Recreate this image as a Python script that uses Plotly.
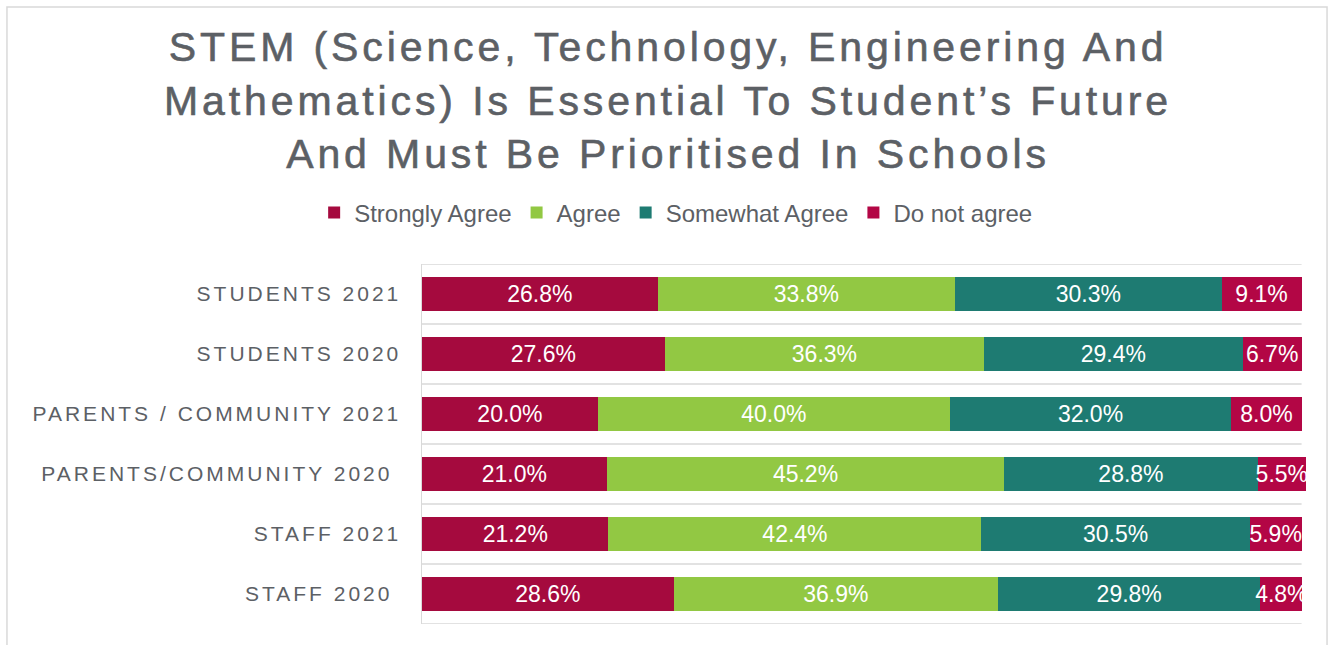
import plotly.graph_objects as go

# Survey groups, top to bottom
groups = [
    "STUDENTS 2021",
    "STUDENTS 2020",
    "PARENTS / COMMUNITY 2021",
    "PARENTS/COMMUNITY 2020\u00a0",
    "STAFF 2021",
    "STAFF 2020\u00a0",
]

# Share of responses (%) per answer, in the same order as groups
strongly_agree = [26.8, 27.6, 20.0, 21.0, 21.2, 28.6]
agree = [33.8, 36.3, 40.0, 45.2, 42.4, 36.9]
somewhat_agree = [30.3, 29.4, 32.0, 28.8, 30.5, 29.8]
do_not_agree = [9.1, 6.7, 8.0, 5.5, 5.9, 4.8]

series = [
    ("Strongly Agree", strongly_agree, "#A50A3E"),
    ("Agree", agree, "#92C843"),
    ("Somewhat Agree", somewhat_agree, "#1E7B72"),
    ("Do not agree", do_not_agree, "#B30645"),
]

FONT = "Liberation Sans, Arial, sans-serif"
GREY = "#5C6065"

fig = go.Figure()
for name, vals, color in series:
    fig.add_trace(go.Bar(
        y=groups, x=vals, name=name, orientation="h",
        marker=dict(color=color, line=dict(width=0)),
        text=vals, texttemplate="%{x:.1f}%",
        textposition="inside", insidetextanchor="middle",
        textangle=0, constraintext="none", cliponaxis=False,
        insidetextfont=dict(family=FONT, size=23, color="white"),
        hoverinfo="skip",
    ))

# Separators between the groups (category boundaries)
shapes = []
for i in range(len(groups) + 1):
    shapes.append(dict(type="line", xref="x", yref="y", x0=0, x1=100,
                       y0=i - 0.5, y1=i - 0.5,
                       line=dict(color="#D9D9D9", width=1.5), layer="below"))
# Outer chart frame
shapes.append(dict(type="rect", xref="paper", yref="paper",
                   x0=-0.4695, x1=1.0238, y0=-0.2, y1=1.7139,
                   line=dict(color="#D9D9D9", width=1.5),
                   fillcolor="rgba(0,0,0,0)", layer="below"))

fig.update_layout(
    width=1338, height=645,
    margin=dict(l=422, r=32, t=264, b=21),
    paper_bgcolor="white", plot_bgcolor="white",
    barmode="stack", bargap=0.433,
    title=dict(
        text="STEM (Science, Technology, Engineering And<br>"
             "Mathematics) Is Essential To Student\u2019s Future<br>"
             "And Must Be Prioritised In Schools",
        x=0.4993, xanchor="center", xref="container",
        y=0.905, yanchor="top", yref="container",
        font=dict(family=FONT, size=41, color=GREY),
    ),
    legend=dict(
        orientation="h", x=0.2875, xanchor="center",
        y=1.1417, yanchor="middle",
        font=dict(family=FONT, size=24, color=GREY),
        traceorder="normal", itemclick=False, itemdoubleclick=False,
    ),
    xaxis=dict(range=[0, 100.5], showgrid=False, zeroline=False,
               showticklabels=False, showline=False, fixedrange=True),
    yaxis=dict(autorange=False, range=[5.5, -0.5], showgrid=False,
               zeroline=False, showline=True, linecolor="#D9D9D9",
               linewidth=1.5, ticks="", ticklabelstandoff=15,
               tickfont=dict(family=FONT, size=21, color=GREY),
               fixedrange=True),
    shapes=shapes,
    showlegend=True,
)

spacing_js = """
var gd = document.getElementById('{plot_id}');
gd.querySelectorAll('g.ytick text').forEach(function(t){ t.style.letterSpacing = '3px'; });
gd.querySelectorAll('text.gtitle').forEach(function(t){
    t.style.letterSpacing = '3.9px';
    t.style.stroke = t.style.fill || '#5C6065';
    t.style.strokeWidth = '0.6px';
});
"""

fig.write_html("out.html", config={"displayModeBar": False, "staticPlot": True},
               post_script=spacing_js)
